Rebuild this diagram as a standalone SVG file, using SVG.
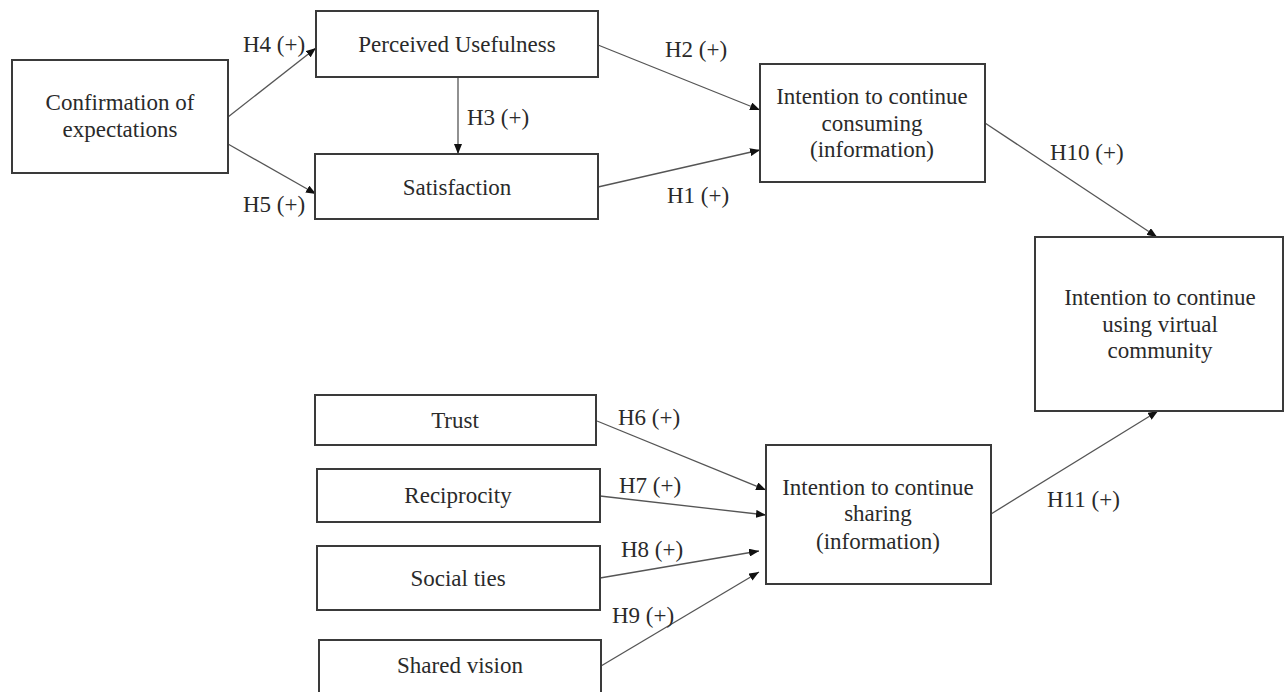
<svg xmlns="http://www.w3.org/2000/svg" width="1284" height="692" viewBox="0 0 1284 692">
<style>
.box{fill:#fff;stroke:#3a3a3a;stroke-width:2}
.t{font-family:"Liberation Serif","DejaVu Serif",serif;font-size:23px;fill:#2a2a2a;text-anchor:middle}
.l{font-family:"Liberation Serif","DejaVu Serif",serif;font-size:23px;fill:#2a2a2a}
.c{stroke:#555;stroke-width:1.3;fill:none;marker-end:url(#ah)}
</style>
<defs>
<marker id="ah" markerWidth="10" markerHeight="8" refX="10" refY="4" orient="auto" markerUnits="userSpaceOnUse">
<path d="M0,0 L10,4 L0,8 Z" fill="#111"/>
</marker>
</defs>
<rect width="1284" height="692" fill="#fff"/>
<g id="connectors">
<line class="c" x1="228" y1="117" x2="316" y2="48"/>
<line class="c" x1="228" y1="144" x2="316" y2="194"/>
<line class="c" x1="458" y1="77" x2="458" y2="154"/>
<line class="c" x1="598" y1="45" x2="760" y2="110"/>
<line class="c" x1="598" y1="187" x2="760" y2="150"/>
<line class="c" x1="985" y1="123" x2="1157" y2="237"/>
<line class="c" x1="991" y1="514" x2="1158" y2="411"/>
<line class="c" x1="597" y1="421" x2="766" y2="490"/>
<line class="c" x1="600" y1="496" x2="766" y2="515"/>
<line class="c" x1="600" y1="578" x2="759" y2="551"/>
<line class="c" x1="601" y1="666" x2="759" y2="572"/>
<text class="l" x="243" y="52">H4 (+)</text>
<text class="l" x="243" y="212">H5 (+)</text>
<text class="l" x="467" y="125">H3 (+)</text>
<text class="l" x="665" y="57">H2 (+)</text>
<text class="l" x="667" y="203">H1 (+)</text>
<text class="l" x="1050" y="160">H10 (+)</text>
<text class="l" x="1047" y="507">H11 (+)</text>
<text class="l" x="618" y="425">H6 (+)</text>
<text class="l" x="619" y="493">H7 (+)</text>
<text class="l" x="621" y="557">H8 (+)</text>
<text class="l" x="612" y="623">H9 (+)</text>
</g>
<g id="confirmation">
<rect class="box" x="12" y="60" width="216" height="113"/>
<text class="t" x="120" y="110">Confirmation of</text>
<text class="t" x="120" y="137">expectations</text>
</g>
<g id="usefulness">
<rect class="box" x="316" y="11" width="282" height="66"/>
<text class="t" x="457" y="52">Perceived Usefulness</text>
</g>
<g id="satisfaction">
<rect class="box" x="315" y="154" width="283" height="65"/>
<text class="t" x="457" y="195">Satisfaction</text>
</g>
<g id="consuming">
<rect class="box" x="760" y="64" width="225" height="118"/>
<text class="t" x="872" y="104">Intention to continue</text>
<text class="t" x="872" y="131">consuming</text>
<text class="t" x="872" y="157">(information)</text>
</g>
<g id="community">
<rect class="box" x="1035" y="237" width="248" height="174"/>
<text class="t" x="1160" y="305">Intention to continue</text>
<text class="t" x="1160" y="332">using virtual</text>
<text class="t" x="1160" y="358">community</text>
</g>
<g id="trust">
<rect class="box" x="315" y="395" width="281" height="50"/>
<text class="t" x="455" y="428">Trust</text>
</g>
<g id="reciprocity">
<rect class="box" x="317" y="469" width="283" height="53"/>
<text class="t" x="458" y="503">Reciprocity</text>
</g>
<g id="socialties">
<rect class="box" x="317" y="546" width="283" height="64"/>
<text class="t" x="458" y="586">Social ties</text>
</g>
<g id="sharedvision">
<rect class="box" x="319" y="640" width="282" height="70"/>
<text class="t" x="460" y="673">Shared vision</text>
</g>
<g id="sharing">
<rect class="box" x="766" y="445" width="225" height="139"/>
<text class="t" x="878" y="495">Intention to continue</text>
<text class="t" x="878" y="521">sharing</text>
<text class="t" x="878" y="549">(information)</text>
</g>
</svg>
